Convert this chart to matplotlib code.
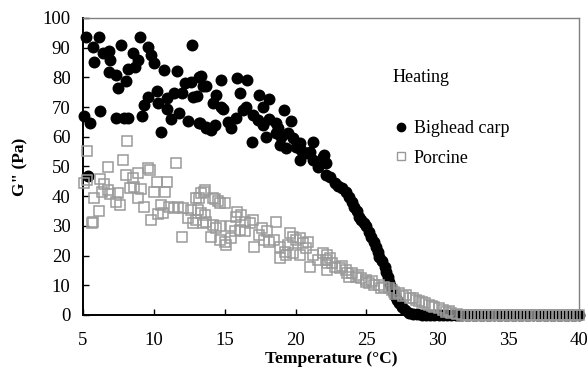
import numpy as np
import matplotlib
matplotlib.use('Agg')
import matplotlib.pyplot as plt
from matplotlib.lines import Line2D

plt.rcParams['font.family'] = ['Liberation Serif', 'DejaVu Serif']

# Bighead carp, G'' vs temperature (heating)
carp_t = [5.07, 5.23, 5.33, 5.5, 5.7, 5.8, 6.1, 6.2, 6.4, 6.8, 6.8, 6.9, 7.3, 7.35, 7.5,
          7.65, 7.9, 8.05, 8.2, 8.2, 8.5, 8.7, 8.9, 9.0, 9.15, 9.3, 9.6, 9.6, 9.8, 10.0,
          10.2, 10.3, 10.5, 10.7, 10.9, 10.9, 11.2, 11.45, 11.6, 11.8, 12.0, 12.2, 12.4, 12.6, 12.7,
          12.75, 13.05, 13.15, 13.2, 13.45, 13.7,
          13.25, 13.35, 13.65, 13.7, 14.05, 14.2, 14.3, 14.4, 14.75, 14.75, 14.9, 15.2, 15.45, 15.8,
          15.9, 16.1, 16.3, 16.5, 16.6, 16.95, 17.0, 17.35, 17.45, 17.7, 17.7, 17.9, 18.1, 18.15,
          18.6, 18.6, 18.75, 18.9, 19.0, 19.2, 19.35, 19.45, 19.7, 19.8, 20.05, 20.3, 20.3, 20.4,
          20.75, 21.0, 21.2, 21.2, 21.6, 21.9, 22.0, 22.15, 22.15, 22.4,
          22.75, 23.0, 23.3, 23.55, 23.8, 24.0, 24.15, 24.3, 24.5, 24.65, 24.8, 25.0, 25.15, 25.3,
          25.5, 25.7, 25.8, 25.9, 26.1, 26.3, 26.4, 26.5, 26.6, 26.7, 26.85, 27.0, 27.15, 27.3,
          27.5, 27.7, 28.0, 28.3, 28.6, 28.9, 29.2, 29.5, 29.8, 30.1, 30.4, 30.7, 31.0, 31.3, 31.5]
carp_g = [67.1, 93.6, 46.8, 64.5, 90.3, 85.3, 93.5, 68.8, 88.3, 89.0, 81.7, 85.7, 80.8, 66.2, 76.3,
          90.9, 66.2, 78.9, 66.2, 82.7, 88.3, 83.6, 85.9, 93.5, 67.1, 70.7, 90.3, 73.5, 87.5, 84.9,
          75.4, 71.5, 61.7, 82.5, 73.0, 69.3, 65.9, 74.6, 82.2, 68.1, 74.6, 78.0, 65.4, 78.4, 90.9,
          73.5, 73.7, 64.5, 80.2, 77.1, 63.2,
          64.5, 80.5, 77.1, 62.9, 62.3, 71.5, 64.0, 74.1, 79.1, 70.1, 69.3, 65.1, 62.9, 66.2,
          79.7, 74.6, 69.0, 70.1, 79.1, 58.3, 67.3, 65.7, 74.1, 70.1, 64.0, 60.0, 72.6, 65.9,
          64.5, 61.2, 62.9, 57.2, 60.0, 69.0, 56.1, 61.2, 65.4, 59.5, 56.7, 57.8, 52.2, 55.6,
          54.4, 55.0, 58.3, 52.2, 49.9, 53.3, 53.9, 51.1, 47.1, 46.6,
          44.3, 43.5, 42.7, 41.5, 39.8, 38.0, 36.5, 35.0, 33.1, 31.8, 30.8, 29.8, 28.0, 26.4,
          24.6, 23.0, 21.2, 19.6, 18.0, 16.3, 14.6, 12.9, 11.2, 9.5, 7.8, 6.2, 5.0, 3.9,
          2.7, 1.7, 0.8, 0.4, 0.2, 0.1, 0.0, 0.0, 0.0, 0.0, 0.0, 0.0, 0.0, 0.0, 0.0]

# Porcine
pork_t = [5.07, 5.3, 5.3, 5.6, 5.7, 5.8, 6.1, 6.2, 6.35, 6.5, 6.75, 6.75, 6.9, 7.35, 7.5,
          7.6, 7.8, 8.05, 8.1, 8.3, 8.5, 8.6, 8.9, 8.9, 9.1, 9.3, 9.6, 9.7, 9.8, 10.0,
          10.2, 10.3, 10.5, 10.65, 10.8, 10.9, 11.1, 11.45, 11.55, 11.7, 12.0, 12.05, 12.4, 12.6, 12.75,
          13.0, 13.0, 13.1, 13.2, 13.35, 13.35, 13.45, 13.55, 13.6, 13.6, 13.7, 14.05, 14.2, 14.2,
          14.3, 14.4, 14.5, 14.65, 14.65, 14.65, 15.0, 15.0, 15.1, 15.45, 15.45, 15.7, 15.8, 15.9,
          16.05, 16.15, 16.4, 16.4, 16.75, 17.0, 17.1, 17.45, 17.6, 17.8, 17.95, 18.15, 18.5, 18.6,
          18.9, 18.9, 19.25, 19.35, 19.5, 19.6, 19.8, 19.8, 20.05, 20.3, 20.3, 20.5, 20.75, 20.9,
          21.0, 21.2, 21.55, 21.9, 22.15, 22.25, 22.25, 22.25, 22.4, 22.6, 22.75, 23.1, 23.3, 23.55,
          23.6, 23.8, 24.0, 24.25, 24.4, 24.6, 24.95, 25.0, 25.2, 25.4, 25.55, 25.9, 26.0, 26.25,
          26.6, 26.8, 26.95, 27.0, 27.3, 27.6, 27.8, 28.1, 28.3, 28.5, 28.7, 28.95, 29.1, 29.4,
          29.6, 29.8, 30.1, 30.4, 30.6, 30.8, 31.0, 31.4]
pork_g = [44.5, 55.3, 45.5, 31.1, 31.4, 39.3, 35.1, 45.7, 41.5, 44.1, 49.9, 42.1, 40.7, 38.1, 41.2,
          37.0, 52.2, 47.1, 58.6, 42.6, 46.0, 43.0, 47.7, 39.3, 42.3, 36.5, 49.4, 48.8, 32.0, 41.5,
          44.9, 34.0, 37.0, 34.2, 41.5, 44.6, 36.5, 35.9, 51.1, 36.5, 26.4, 35.9, 32.6, 35.4, 30.9,
          32.0, 39.3, 35.4, 39.3, 34.2, 41.0, 30.9, 41.5, 42.1, 33.7, 31.4, 26.4, 39.3, 30.3,
          39.0, 29.2, 38.2, 37.8, 29.8, 25.3, 37.6, 24.7, 23.6, 29.8, 25.8, 28.1, 33.1, 34.8,
          28.6, 33.7, 31.4, 28.1, 30.9, 32.0, 23.0, 26.9, 29.2, 25.3, 28.1, 24.7, 25.3, 31.4,
          23.0, 19.1, 21.3, 20.2, 23.6, 27.5, 26.4, 20.8, 25.3, 25.8, 20.2, 24.1, 22.4, 24.7,
          16.3, 20.2, 18.5, 20.8, 18.5, 17.4, 15.2, 20.2, 19.0, 17.4, 16.3, 15.7, 16.5, 15.2,
          14.0, 12.9, 14.0, 12.9, 13.5, 12.4, 11.8, 11.0, 10.7, 11.5, 10.1, 10.1, 9.0, 9.5,
          9.0, 8.5, 7.8, 7.0, 7.3, 6.5, 6.7, 5.6, 5.8, 5.1, 4.6, 4.5, 4.0, 3.4,
          3.0, 2.8, 2.3, 1.8, 1.1, 1.3, 0.8, 0.3]

# both samples sit at zero above ~31.5 C
tail_t = [31.75, 32.0, 32.25, 32.5, 32.75, 33.0, 33.25, 33.5, 33.75, 34.0, 34.25, 34.5,
          34.75, 35.0, 35.25, 35.5, 35.75, 36.0, 36.25, 36.5, 36.75, 37.0, 37.25, 37.5,
          37.75, 38.0, 38.25, 38.5, 38.75, 39.0, 39.25, 39.5, 39.75, 40.0]
tail_g = [0, 0, 0, 0, 0, 0, 0, 0, 0, 0, 0, 0,
          0, 0, 0, 0, 0, 0, 0, 0, 0, 0, 0, 0,
          0, 0, 0, 0, 0, 0, 0, 0, 0, 0]

fig = plt.figure(figsize=(5.87, 3.74), dpi=100)
ax = fig.add_axes([0.1414, 0.158, 0.845, 0.794])

ax.plot(carp_t + tail_t, carp_g + tail_g, 'o', color='black', markersize=8.6,
        markeredgewidth=0, clip_on=False, zorder=3)
ax.plot(pork_t + tail_t, pork_g + tail_g, 's', markerfacecolor='none', markeredgecolor='#9a9a9a',
        markersize=7.3, markeredgewidth=1.1, clip_on=False, zorder=4)

ax.set_xlim(5, 40)
ax.set_ylim(0, 100)
ax.set_xticks(np.arange(5, 41, 5))
ax.set_yticks(np.arange(0, 101, 10))
ax.tick_params(direction='in', length=4, width=1, labelsize=13.5, colors='black')
ax.tick_params(axis='x', pad=12)
ax.tick_params(axis='y', pad=9)
for s in ['left', 'bottom']:
    ax.spines[s].set_linewidth(1.4)
    ax.spines[s].set_color('black')
for s in ['top', 'right']:
    ax.spines[s].set_linewidth(1.0)
    ax.spines[s].set_color('#808080')

ax.set_xlabel('Temperature (\u00b0C)', fontsize=12.5, fontweight='bold', labelpad=2)
ax.set_ylabel('G" (Pa)', fontsize=12.5, fontweight='bold', labelpad=10)

fig.text(393 / 587, 1 - 77 / 374, 'Heating', fontsize=13, va='center', ha='left')
h1 = Line2D([], [], marker='o', linestyle='none', color='black', markersize=7, markeredgewidth=0)
h2 = Line2D([], [], marker='s', linestyle='none', markerfacecolor='none',
            markeredgecolor='#9a9a9a', markersize=6, markeredgewidth=1)
fig.legend([h1, h2], ['Bighead carp', 'Porcine'], loc='upper left',
           bbox_to_anchor=(394 / 587, 1 - 120 / 374), frameon=False, fontsize=13,
           handlelength=0.8, handletextpad=0.3, labelspacing=0.7, borderpad=0,
           borderaxespad=0)

plt.savefig('out.png', dpi=100)
